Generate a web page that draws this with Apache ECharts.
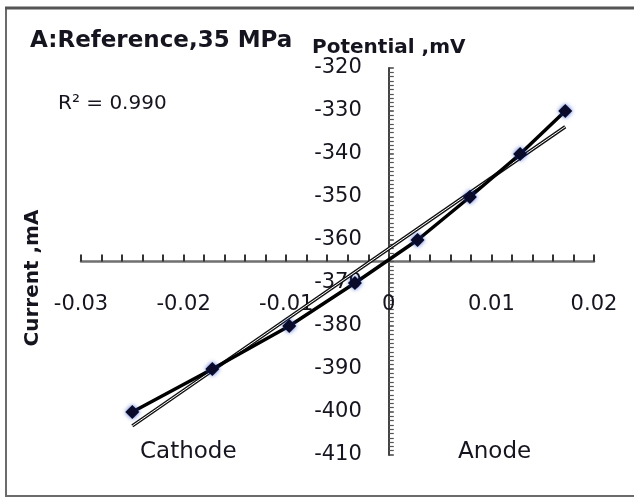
<!DOCTYPE html>
<html>
<head>
<meta charset="utf-8">
<script src="https://cdn.jsdelivr.net/npm/echarts@6/dist/echarts.min.js"></script>
<style>
  html, body { margin: 0; padding: 0; background: #fff; }
  #chart { width: 634px; height: 501px; }
</style>
</head>
<body>
<div id="chart"></div>
<script>
// Polarisation readings: current (mA) and potential (mV)
var currentMA = [-0.025, -0.0172, -0.0097, -0.0033, 0.0028, 0.0079, 0.0128, 0.0172];
var potentialMV = [-400, -390, -380, -370, -360, -350, -340, -330];

var xTicks = { min: -0.03, max: 0.02, step: 0.01 };
var yTicks = { min: -410, max: -320, step: 10 };
var xAxisCross = -365;   // potential at which the current axis is drawn

var FONT = 'DejaVu Sans';
var INK = '#15151f';

var GRID = { left: 81, right: 40, top: 68, bottom: 46 };
var W = 634, H = 501;

// least-squares linear trend through the readings
function linearFit(xs, ys) {
  var n = xs.length, mx = 0, my = 0;
  for (var i = 0; i < n; i++) { mx += xs[i]; my += ys[i]; }
  mx /= n; my /= n;
  var sxy = 0, sxx = 0;
  for (var j = 0; j < n; j++) {
    sxy += (xs[j] - mx) * (ys[j] - my);
    sxx += (xs[j] - mx) * (xs[j] - mx);
  }
  var slope = sxy / sxx;
  return { slope: slope, intercept: my - slope * mx };
}
var fit = linearFit(currentMA, potentialMV);
var xLo = Math.min.apply(null, currentMA), xHi = Math.max.apply(null, currentMA);
var trend = [[xLo, fit.intercept + fit.slope * xLo], [xHi, fit.intercept + fit.slope * xHi]];

var points = currentMA.map(function (x, i) { return [x, potentialMV[i]]; });

// helper axis whose zero sits at xAxisCross, so the current axis can cross there
var helperMin = yTicks.min - xAxisCross;
var helperMax = yTicks.max - xAxisCross;

// tick labels sit beside the crossing axes rather than at the grid edges
var plotW = W - GRID.left - GRID.right, plotH = H - GRID.top - GRID.bottom;
var yAxisPx = GRID.left + plotW * (0 - xTicks.min) / (xTicks.max - xTicks.min);
var xAxisPx = GRID.top + plotH * (yTicks.max - xAxisCross) / (yTicks.max - yTicks.min);
var yLabelGap = 27, xLabelGap = 33;
var yLabelMargin = -(yAxisPx - GRID.left - yLabelGap);
var xLabelMargin = -((H - GRID.bottom) - xAxisPx - xLabelGap);

var chart = echarts.init(document.getElementById('chart'), null, { renderer: 'canvas' });
chart.setOption({
  animation: false,
  backgroundColor: '#ffffff',
  title: {
    text: 'A:Reference,35 MPa',
    left: 25, top: 25,
    textStyle: { fontFamily: FONT, fontWeight: 'bold', fontSize: 23, color: INK }
  },
  grid: { left: GRID.left, right: GRID.right, top: GRID.top, bottom: GRID.bottom, containLabel: false },
  xAxis: {
    type: 'value',
    min: xTicks.min, max: xTicks.max, interval: xTicks.step,
    axisLine: { show: true, onZero: true, onZeroAxisIndex: 1, lineStyle: { color: '#707070', width: 2.5 } },
    axisTick: { show: true, inside: true, length: 7, lineStyle: { color: '#333', width: 2 } },
    minorTick: { show: true, splitNumber: 5, length: 7, lineStyle: { color: '#333', width: 2 } },
    splitLine: { show: false },
    axisLabel: {
      margin: xLabelMargin, fontFamily: FONT, fontSize: 21, color: INK,
      formatter: function (v) { return v === 0 ? '0' : String(+v.toFixed(2)); }
    }
  },
  yAxis: [{
    type: 'value',
    min: yTicks.min, max: yTicks.max, interval: yTicks.step,
    name: 'Potential ,mV',
    nameLocation: 'end', nameGap: 9,
    nameTextStyle: { fontFamily: FONT, fontWeight: 'bold', fontSize: 20, color: INK, align: 'center' },
    axisLine: { show: true, onZero: true, lineStyle: { color: '#444', width: 2 } },
    axisTick: { show: true, inside: true, length: 5, lineStyle: { color: '#444', width: 1.5 } },
    minorTick: { show: true, splitNumber: 10, length: 5, lineStyle: { color: '#555', width: 1.2 } },
    splitLine: { show: false },
    axisLabel: { margin: yLabelMargin, fontFamily: FONT, fontSize: 21, color: INK }
  }, {
    type: 'value', show: false,
    min: helperMin, max: helperMax,
    splitLine: { show: false }
  }],
  graphic: [
    { type: 'rect', silent: true, z: -1,
      shape: { x: 6, y: 8, width: 700, height: 488 },
      style: { fill: 'none', stroke: '#6b6b6b', lineWidth: 2 } },
    { type: 'line', silent: true,
      shape: { x1: 5, y1: 8, x2: 640, y2: 8 },
      style: { stroke: '#555', lineWidth: 3 } },
    { type: 'text', x: 58, y: 104,
      style: { text: 'R\u00b2 = 0.990', font: '20px "DejaVu Sans"', fill: INK, verticalAlign: 'middle' } },
    { type: 'text', x: 33, y: 278, rotation: Math.PI / 2,
      style: { text: 'Current ,mA', font: 'bold 20px "DejaVu Sans"', fill: INK, align: 'center', verticalAlign: 'middle' } },
    { type: 'text', x: 140, y: 452,
      style: { text: 'Cathode', font: '23px "DejaVu Sans"', fill: INK, verticalAlign: 'middle' } },
    { type: 'text', x: 458, y: 452,
      style: { text: 'Anode', font: '23px "DejaVu Sans"', fill: INK, verticalAlign: 'middle' } }
  ],
  series: [
    { type: 'line', name: 'trend', data: trend, symbol: 'none', z: 2,
      lineStyle: { color: '#111', width: 3.5 } },
    { type: 'line', name: 'trend core', data: trend, symbol: 'none', z: 3,
      lineStyle: { color: '#ffffff', width: 1 } },
    { type: 'line', name: 'readings', data: points, z: 4,
      symbol: 'diamond', symbolSize: 14,
      lineStyle: { color: '#000', width: 3.5 },
      itemStyle: { color: '#0a0a2a', shadowBlur: 4, shadowColor: 'rgba(30,70,200,0.8)' } }
  ]
});
</script>
</body>
</html>
